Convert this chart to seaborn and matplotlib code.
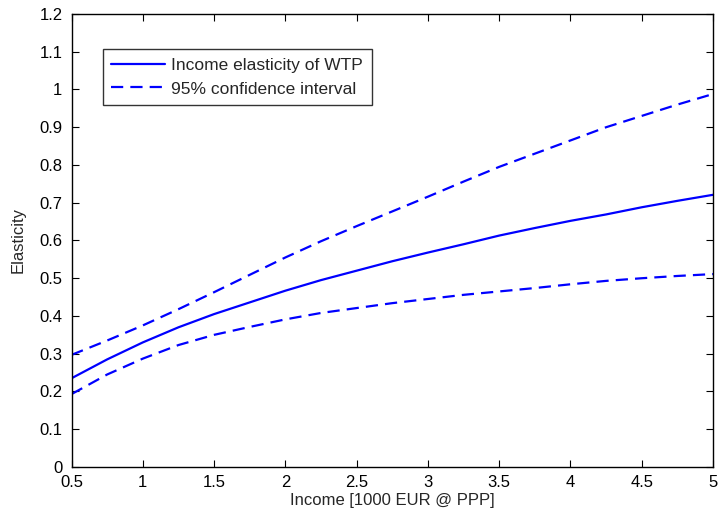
import pandas as pd
import seaborn as sns
import matplotlib.pyplot as plt

# values
income = [0.5, 0.75, 1.0, 1.25, 1.5, 1.75, 2.0, 2.25, 2.5, 2.75,
          3.0, 3.25, 3.5, 3.75, 4.0, 4.25, 4.5, 4.75, 5.0]
elasticity = [0.235, 0.285, 0.330, 0.370, 0.405, 0.436, 0.467, 0.495, 0.520, 0.545,
              0.568, 0.590, 0.613, 0.633, 0.652, 0.669, 0.688, 0.705, 0.721]
ci_upper = [0.297, 0.335, 0.375, 0.418, 0.463, 0.509, 0.555, 0.598, 0.638, 0.677,
            0.716, 0.756, 0.795, 0.830, 0.865, 0.900, 0.930, 0.960, 0.988]
ci_lower = [0.193, 0.245, 0.287, 0.323, 0.350, 0.371, 0.391, 0.408, 0.421, 0.434,
            0.445, 0.456, 0.465, 0.474, 0.484, 0.493, 0.500, 0.506, 0.511]

x_ticks = [0.5, 1, 1.5, 2, 2.5, 3, 3.5, 4, 4.5, 5]
x_labels = ['0.5', '1', '1.5', '2', '2.5', '3', '3.5', '4', '4.5', '5']
y_ticks = [i / 10 for i in range(13)]
y_labels = ['0', '0.1', '0.2', '0.3', '0.4', '0.5', '0.6', '0.7', '0.8', '0.9', '1', '1.1', '1.2']

df = pd.concat([
    pd.DataFrame({'income': income, 'value': elasticity, 'series': 'Income elasticity of WTP', 'band': 'mid'}),
    pd.DataFrame({'income': income, 'value': ci_upper, 'series': '95% confidence interval', 'band': 'up'}),
    pd.DataFrame({'income': income, 'value': ci_lower, 'series': '95% confidence interval', 'band': 'low'}),
])

sns.set_style("ticks")
plt.rcParams['font.family'] = ['Liberation Sans', 'DejaVu Sans']

fig = plt.figure(figsize=(7.21, 5.22), dpi=100)
ax = fig.add_axes([0.0992, 0.1054, 0.8897, 0.8678])

sns.lineplot(data=df, x='income', y='value', style='series', units='band',
             estimator=None, color='#0000ff', linewidth=1.6,
             dashes={'Income elasticity of WTP': '', '95% confidence interval': (5.5, 3.2)},
             ax=ax)

ax.set_xlim(0.5, 5)
ax.set_ylim(0, 1.2)
ax.set_xticks(x_ticks)
ax.set_xticklabels(x_labels)
ax.set_yticks(y_ticks)
ax.set_yticklabels(y_labels)
ax.tick_params(direction='in', top=True, right=True, length=5, labelsize=12, colors='black')
ax.tick_params(axis='x', pad=6)
ax.tick_params(axis='y', pad=6.5)
for s in ax.spines.values():
    s.set_visible(True)
    s.set_color('black')
    s.set_linewidth(1)
ax.set_xlabel('Income [1000 EUR @ PPP]', fontsize=12, labelpad=2)
ax.set_ylabel('Elasticity', fontsize=12, labelpad=10)

leg = ax.legend(loc='upper left', bbox_to_anchor=(0.0485, 0.923), fontsize=12.5,
                frameon=True, fancybox=False, edgecolor='black', handlelength=3.1,
                borderpad=0.5, labelspacing=0.5, handletextpad=0.35, borderaxespad=0)
leg.get_frame().set_linewidth(1)

fig.savefig('out.png', dpi=100)
